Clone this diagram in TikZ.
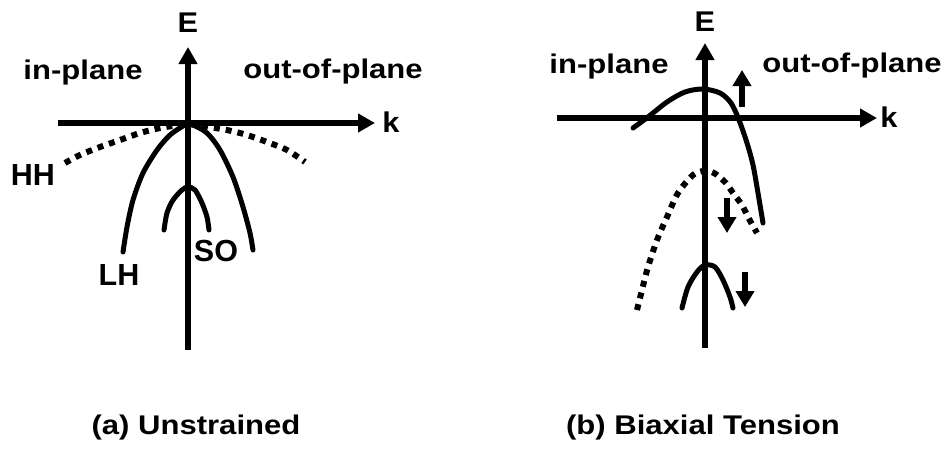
\documentclass[tikz,border=0pt]{standalone}
\usepackage{fontspec}
\setmainfont{Liberation Sans}
\newfontfamily\labfont[FakeStretch=1.15]{Liberation Sans}
\newfontfamily\axfont[FakeStretch=1.08]{Liberation Sans}
\usetikzlibrary{arrows.meta}
\begin{document}
\begin{tikzpicture}[x=1pt,y=-1pt,
  lbl/.style={font=\labfont\bfseries\fontsize{27}{30}\selectfont, inner sep=0pt, anchor=base},
  axlbl/.style={font=\axfont\bfseries\fontsize{28.5}{30}\selectfont, inner sep=0pt, anchor=base},
  bandlbl/.style={font=\bfseries\fontsize{30.5}{32}\selectfont, inner sep=0pt, anchor=base},
  capt/.style={font=\labfont\bfseries\fontsize{27}{30}\selectfont, inner sep=0pt, anchor=base},
  axisline/.style={line width=6.5pt, -{Triangle[length=17pt,width=18pt]}},
  bandline/.style={line width=5pt, line cap=round},
  dotline/.style={line width=6pt, dash pattern=on 6pt off 6pt},
  shiftarrow/.style={line width=6pt, -{Triangle[length=16pt,width=18pt]}}]
\useasboundingbox (0,0) rectangle (950,453);

% ---------------- panel (a) ----------------
\coordinate (aEb) at (188,350);
\coordinate (aEt) at (188,47);
\coordinate (aKl) at (58,123);
\coordinate (aKr) at (375,123);
\draw[axisline] (aEb) -- (aEt);
\draw[axisline] (aKl) -- (aKr);
\node[axlbl] (aE) at (188,32) {E};
\node[axlbl] (aK) at (391,132) {k};
\node[lbl] (aIn) at (83,79) {in-plane};
\node[lbl] (aOut) at (333,78) {out-of-plane};
\node[bandlbl] (aHH) at (33,185) {HH};
\node[bandlbl] (aLH) at (119,285) {LH};
\node[bandlbl] (aSO) at (216,261) {SO};
% HH dotted
\draw[dotline] plot[smooth] coordinates {(65,163) (80,155) (100,147) (120,140) (140,133) (160,128) (180,125) (188,124) (203,126) (227,130) (247,135) (267,142) (287,150) (305,162)};
% LH
\draw[bandline] plot[smooth] coordinates {(123,252) (127,227) (133,200) (143,173) (157,150) (170,135) (183,126) (188,124) (193,125) (207,133) (220,150) (233,177) (243,207) (250,233) (253,250)};
% SO
\draw[bandline] plot[smooth] coordinates {(164,230) (167,213) (173,200) (182,190) (188,187) (195,190) (202,203) (207,217) (209,230)};
\node[capt] (aCap) at (196,434) {(a) Unstrained};

% ---------------- panel (b) ----------------
\coordinate (bEb) at (705,348);
\coordinate (bEt) at (705,43);
\coordinate (bKl) at (557,118);
\coordinate (bKr) at (877,118);
\draw[axisline] (bEb) -- (bEt);
\draw[axisline] (bKl) -- (bKr);
\node[axlbl] (bE) at (705,31) {E};
\node[axlbl] (bK) at (889,127) {k};
\node[lbl] (bIn) at (609,73) {in-plane};
\node[lbl] (bOut) at (852,72) {out-of-plane};
% HH moved up
\draw[bandline] plot[smooth] coordinates {(633,128) (648,117) (667,102) (685,92) (703,89) (720,93) (731,103) (739,120) (747,143) (753,165) (758,193) (763,223)};
% LH moved down (dotted)
\draw[dotline] plot[smooth] coordinates {(637,310) (642,290) (648,267) (657,240) (667,217) (678,193) (693,175) (704,171) (714,173) (725,182) (733,193) (742,205) (748,217) (757,233)};
% SO moved down
\draw[bandline] plot[smooth] coordinates {(682,308) (688,287) (697,272) (705,265) (715,267) (723,280) (730,297) (733,308)};
% shift arrows
\coordinate (u0) at (742,107); \coordinate (u1) at (742,70);
\coordinate (d0) at (727,198); \coordinate (d1) at (727,233);
\coordinate (s0) at (745,272); \coordinate (s1) at (745,307);
\draw[shiftarrow] (u0) -- (u1);
\draw[shiftarrow] (d0) -- (d1);
\draw[shiftarrow] (s0) -- (s1);
\node[capt] (bCap) at (703,434) {(b) Biaxial Tension};
\end{tikzpicture}
\end{document}
